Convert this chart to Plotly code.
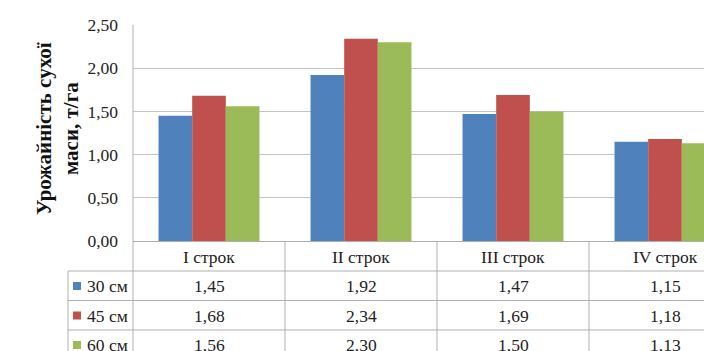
import plotly.graph_objects as go

categories = ["I строк", "II строк", "III строк", "IV строк"]
series_names = ["30 см", "45 см", "60 см"]
values_30 = [1.45, 1.92, 1.47, 1.15]
values_45 = [1.68, 2.34, 1.69, 1.18]
values_60 = [1.56, 2.30, 1.50, 1.13]
value_labels_30 = ["1,45", "1,92", "1,47", "1,15"]
value_labels_45 = ["1,68", "2,34", "1,69", "1,18"]
value_labels_60 = ["1,56", "2,30", "1,50", "1,13"]
y_ticks = [0, 0.5, 1.0, 1.5, 2.0, 2.5]
y_tick_labels = ["0,00", "0,50", "1,00", "1,50", "2,00", "2,50"]
y_title = "Урожайність сухої<br>маси, т/га"

colors = ["#4F81BD", "#C0504D", "#9BBB59"]
FONT = "Liberation Serif, Times New Roman, serif"
GRID = "#C4C4C4"
TABLE = "#AFAFAF"
FS = 17.5

W, H = 704, 351
ML, MT, MB = 133, 25, 110
PW, PH = W - ML, H - MT - MB
CAT_W = 152.0
x_min = -0.5
x_max = x_min + PW / CAT_W

def xp(pix):
    return (pix - ML) / PW

def yp(pix):
    return (MT + PH - pix) / PH

def xdata_to_paper(v):
    return (v - x_min) / (x_max - x_min)

xpos = list(range(len(categories)))
series_values = [values_30, values_45, values_60]
series_labels = [value_labels_30, value_labels_45, value_labels_60]

fig = go.Figure()
for name, vals, col in zip(series_names, series_values, colors):
    fig.add_trace(go.Bar(x=xpos, y=vals, name=name, marker=dict(color=col, line=dict(width=0))))

fig.update_layout(
    width=W, height=H,
    margin=dict(l=ML, r=0, t=MT, b=MB, pad=0),
    paper_bgcolor="white", plot_bgcolor="white",
    barmode="group", bargap=0.336, bargroupgap=0,
    showlegend=False,
    font=dict(family=FONT, size=FS, color="#222222"),
    xaxis=dict(range=[x_min, x_max], showticklabels=False, showgrid=False,
               zeroline=False, showline=False, ticks=""),
    yaxis=dict(range=[0, 2.5], tickvals=y_ticks, ticktext=y_tick_labels,
               showgrid=True, gridcolor=GRID, gridwidth=1,
               zeroline=True, zerolinecolor=TABLE, zerolinewidth=1,
               showline=False, ticks="", ticklabelstandoff=14,
               tickfont=dict(family=FONT, size=FS, color="#222222")),
)

shapes = []
shapes.append(dict(type="line", xref="paper", yref="paper", x0=0, x1=0, y0=1, y1=yp(H + 5),
                   line=dict(color=TABLE, width=1)))
for k in range(len(categories) - 1):
    xb = xdata_to_paper(k + 0.5)
    shapes.append(dict(type="line", xref="paper", yref="paper", x0=xb, x1=xb, y0=0, y1=yp(H + 5),
                       line=dict(color=TABLE, width=1)))
row_tops = [271, 300.5, 330]
for r in row_tops:
    shapes.append(dict(type="line", xref="paper", yref="paper", x0=xp(68), x1=xp(W + 5), y0=yp(r), y1=yp(r),
                       line=dict(color=TABLE, width=1)))
shapes.append(dict(type="line", xref="paper", yref="paper", x0=xp(68), x1=xp(68), y0=yp(271), y1=yp(H + 5),
                   line=dict(color=TABLE, width=1)))

row_centers = [286, 315.5, 345]
annotations = []
for i, c in enumerate(categories):
    annotations.append(dict(x=xpos[i], xref="x", y=yp(256.5), yref="paper", text=c, showarrow=False,
                            xanchor="center", yanchor="middle", font=dict(family=FONT, size=FS, color="#222222")))
for r, (name, labels, col) in enumerate(zip(series_names, series_labels, colors)):
    yc = row_centers[r]
    shapes.append(dict(type="rect", xref="paper", yref="paper", x0=xp(73), x1=xp(81), y0=yp(yc + 4), y1=yp(yc - 4),
                       fillcolor=col, line=dict(width=0)))
    annotations.append(dict(x=xp(85), xref="paper", y=yp(yc), yref="paper", text=name, showarrow=False,
                            xanchor="left", yanchor="middle", font=dict(family=FONT, size=FS, color="#222222")))
    for i, lab in enumerate(labels):
        annotations.append(dict(x=xpos[i], xref="x", y=yp(yc), yref="paper", text=lab, showarrow=False,
                                xanchor="center", yanchor="middle", font=dict(family=FONT, size=FS, color="#222222")))

annotations.append(dict(x=xp(57), xref="paper", y=yp(129), yref="paper", text="<b>" + y_title + "</b>",
                        textangle=-90, showarrow=False, xanchor="center", yanchor="middle",
                        font=dict(family=FONT, size=21, color="#111111")))

fig.update_layout(shapes=shapes, annotations=annotations)
fig.write_html("out.html", config={"displayModeBar": False},
               post_script="document.body.style.margin='0';document.body.style.overflow='hidden';")
